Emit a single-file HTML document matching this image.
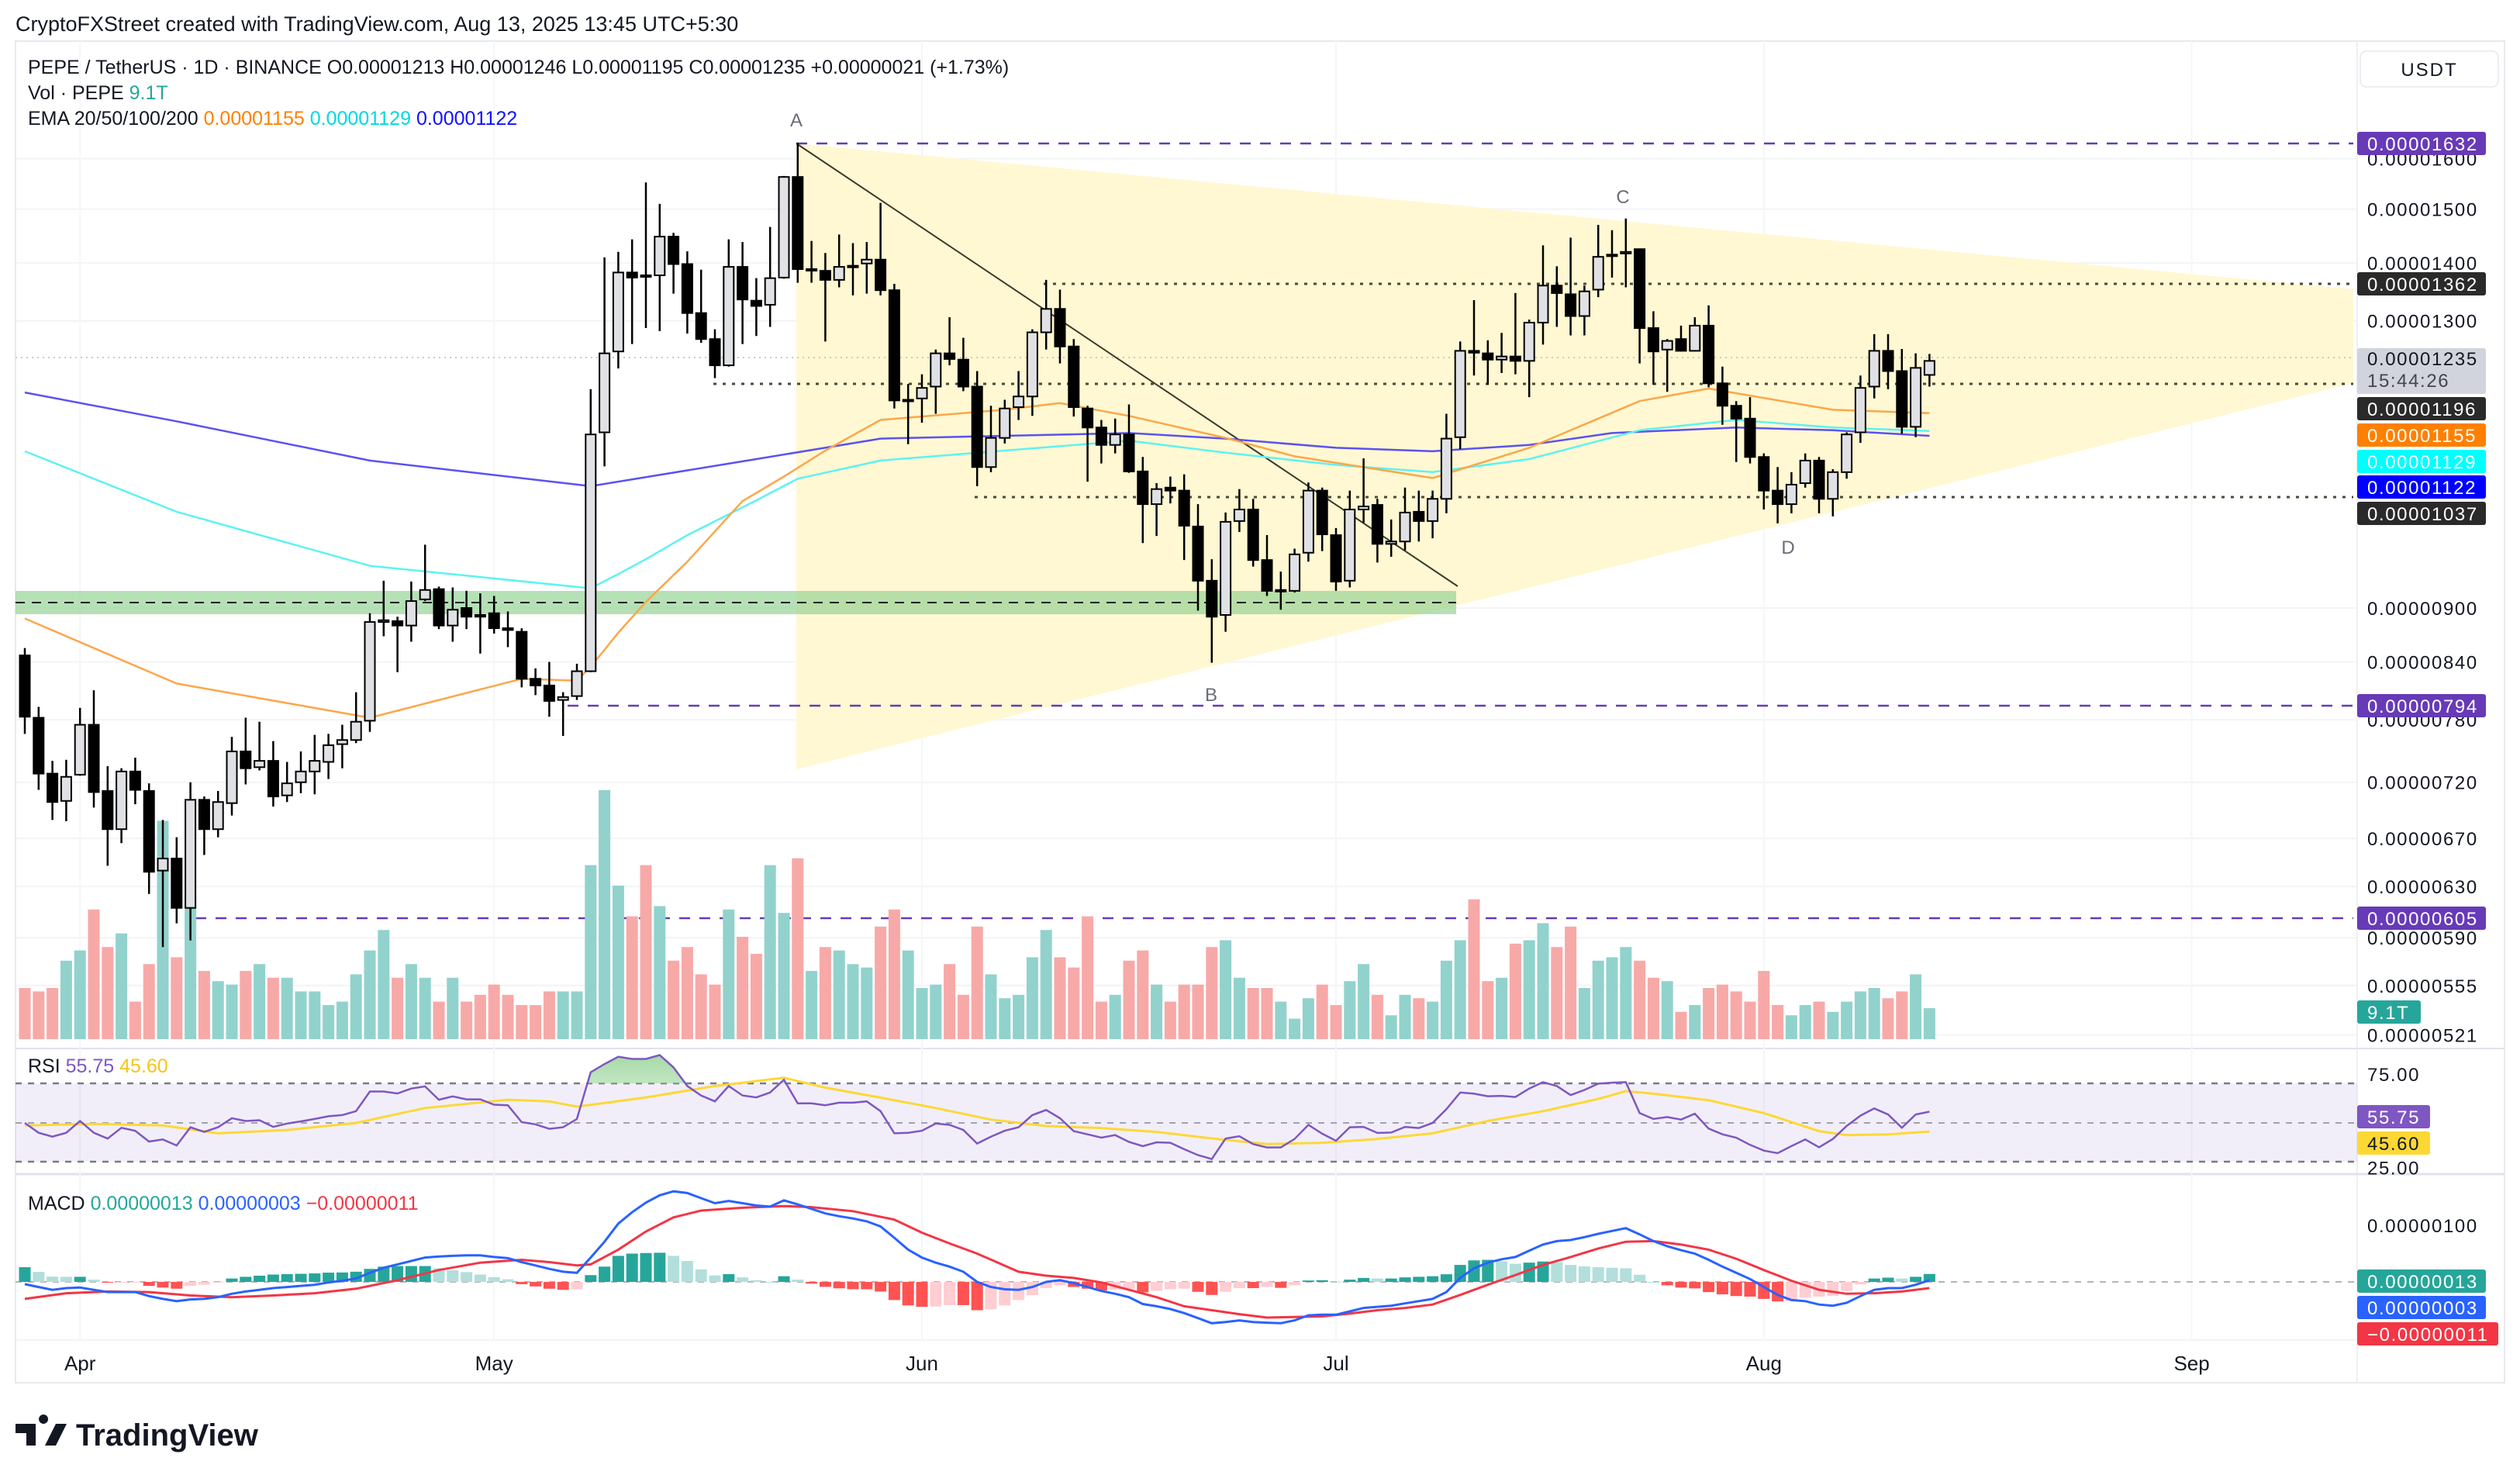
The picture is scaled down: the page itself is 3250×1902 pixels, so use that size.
<!DOCTYPE html>
<html><head><meta charset="utf-8"><style>
html,body{margin:0;padding:0;background:#fff;}
svg{display:block;font-family:"Liberation Sans",sans-serif;}
</style></head><body>
<svg id="c" width="3250" height="1902" viewBox="0 0 3250 1902" xmlns="http://www.w3.org/2000/svg">
<defs>
<linearGradient id="obg" x1="0" y1="0" x2="0" y2="1"><stop offset="0" stop-color="#8fd08f" stop-opacity="0.8"/><stop offset="1" stop-color="#c8ecc8" stop-opacity="0.2"/></linearGradient>
<clipPath id="obclip"><rect x="20" y="1300" width="3020" height="97"/></clipPath>
</defs>
<rect x="0" y="0" width="3250" height="1902" fill="#ffffff"/>
<text x="20" y="40" font-size="27" fill="#131722">CryptoFXStreet created with TradingView.com, Aug 13, 2025 13:45 UTC+5:30</text>
<rect x="20" y="53" width="3210" height="1730" fill="none" stroke="#e8e9ed" stroke-width="2"/>
<line x1="3040" y1="53" x2="3040" y2="1783" stroke="#eef0f3" stroke-width="2"/>
<line x1="20" y1="1352" x2="3230" y2="1352" stroke="#e0e3eb" stroke-width="2"/>
<line x1="20" y1="1514" x2="3230" y2="1514" stroke="#e0e3eb" stroke-width="3"/>
<line x1="20" y1="1728" x2="3040" y2="1728" stroke="#f2f3f5" stroke-width="2"/>
<g id="grid"></g>
<polygon points="1027,185 3035,373 3035,494 1027,992" fill="#fff8d2"/>
<rect x="20" y="762" width="1858" height="30" fill="#8fd08f" fill-opacity="0.65"/>
<line x1="20" y1="777" x2="1878" y2="777" stroke="#131722" stroke-width="2" stroke-dasharray="12,9"/>
<line x1="1027" y1="185" x2="3035" y2="185" stroke="#673ab7" stroke-width="2.5" stroke-dasharray="14,12"/>
<line x1="732" y1="910" x2="3035" y2="910" stroke="#673ab7" stroke-width="2.5" stroke-dasharray="14,12"/>
<line x1="252" y1="1184" x2="3035" y2="1184" stroke="#673ab7" stroke-width="2.5" stroke-dasharray="14,12"/>
<line x1="1346" y1="366" x2="3035" y2="366" stroke="#4a4a3a" stroke-width="3" stroke-dasharray="4,8"/>
<line x1="920" y1="495" x2="3035" y2="495" stroke="#4a4a3a" stroke-width="3" stroke-dasharray="4,8"/>
<line x1="1257" y1="641" x2="3035" y2="641" stroke="#4a4a3a" stroke-width="3" stroke-dasharray="4,8"/>
<line x1="20" y1="461" x2="3035" y2="461" stroke="#c8cad0" stroke-width="2" stroke-dasharray="2,5"/>
<line x1="1027" y1="185" x2="1880" y2="756" stroke="#3a3a2e" stroke-width="2"/>
<text x="1027" y="163" font-size="24" fill="#6a6d78" text-anchor="middle">A</text>
<text x="1562" y="904" font-size="24" fill="#6a6d78" text-anchor="middle">B</text>
<text x="2093" y="262" font-size="24" fill="#6a6d78" text-anchor="middle">C</text>
<text x="2306" y="714" font-size="24" fill="#6a6d78" text-anchor="middle">D</text>
<g id="vol"></g>
<g id="ema"></g>
<g id="candles"></g>
<rect x="20" y="1397" width="3020" height="101" fill="#7e57c2" fill-opacity="0.1"/>
<line x1="20" y1="1397" x2="3040" y2="1397" stroke="#787b86" stroke-width="2.5" stroke-dasharray="8,8"/>
<line x1="20" y1="1448" x2="3040" y2="1448" stroke="#a0a3ab" stroke-width="2" stroke-dasharray="8,8"/>
<line x1="20" y1="1498" x2="3040" y2="1498" stroke="#787b86" stroke-width="2.5" stroke-dasharray="8,8"/>
<g id="rsi"></g>
<line x1="20" y1="1653" x2="3040" y2="1653" stroke="#b2b5be" stroke-width="2" stroke-dasharray="8,8"/>
<g id="macd"></g>
<g id="axis"></g>
<g font-size="25" fill="#131722">
<text x="36" y="95">PEPE / TetherUS · 1D · BINANCE  O0.00001213  H0.00001246  L0.00001195  C0.00001235  +0.00000021 (+1.73%)</text>
<text x="36" y="128">Vol · PEPE <tspan fill="#26a69a">9.1T</tspan></text>
<text x="36" y="161">EMA 20/50/100/200 <tspan fill="#ff8000">0.00001155</tspan> <tspan fill="#00d8e0">0.00001129</tspan> <tspan fill="#1010ff">0.00001122</tspan></text>
<text x="36" y="1383">RSI <tspan fill="#7e57c2">55.75</tspan> <tspan fill="#f5c518">45.60</tspan></text>
<text x="36" y="1560">MACD <tspan fill="#26a69a">0.00000013</tspan> <tspan fill="#2962ff">0.00000003</tspan> <tspan fill="#f23645">−0.00000011</tspan></text>
</g>
<rect x="3044" y="66" width="178" height="46" rx="8" fill="#fff" stroke="#eceef2" stroke-width="2"/>
<text x="3133" y="98" font-size="24" fill="#131722" text-anchor="middle" letter-spacing="2">USDT</text>
<g>
<path d="M20 1836 h26 v28 h-12 v-16 h-14z M56 1836 a6 6 0 1 1 0.1 0z M72 1836 h14 l-14 28 h-14z" fill="#131722"/>
<text x="98" y="1864" font-size="40" font-weight="bold" fill="#131722">TradingView</text>
</g>
</svg>
<script>
const opens=[847,782,728,703,727,775,712,678,730,712,643,653,613,704,678,701,749,734,740,708,720,730,739,756,760,779,884,885,880,910,922,880,900,892,894,877,873,822,815,800,804,830,1127,1250,1383,1378,1378,1448,1398,1313,1270,1228,1393,1334,1327,1374,1563,1389,1386,1370,1395,1399,1406,1352,1175,1177,1195,1247,1237,1195,1078,1119,1164,1180,1281,1320,1258,1162,1134,1109,1124,1072,1028,1050,1046,999,932,892,1006,1021,957,921,920,966,1046,988,932,1021,1027,977,980,1018,1006,1035,1120,1251,1247,1237,1242,1235,1297,1360,1345,1308,1353,1413,1417,1425,1288,1253,1270,1251,1292,1200,1166,1147,1092,1046,1028,1056,1087,1035,1071,1127,1195,1251,1219,1135,1213];
const highs=[855,793,740,741,792,810,735,733,743,719,686,671,720,707,712,763,782,778,759,739,749,765,766,775,808,894,932,890,931,976,925,924,920,917,914,896,877,833,840,808,838,1191,1410,1420,1443,1552,1510,1455,1421,1388,1286,1443,1438,1373,1466,1565,1633,1440,1418,1452,1436,1438,1512,1363,1199,1214,1253,1306,1272,1219,1166,1175,1219,1286,1370,1353,1270,1166,1145,1147,1168,1092,1056,1065,1068,1028,958,1017,1048,1035,988,943,971,1057,1050,997,1046,1090,1035,1008,1050,1046,1046,1154,1266,1335,1268,1280,1347,1302,1432,1394,1446,1360,1470,1460,1482,1425,1316,1270,1292,1306,1326,1226,1173,1179,1097,1078,1071,1097,1092,1075,1127,1212,1278,1278,1254,1247,1246];
const lows=[766,713,686,685,726,697,647,666,700,624,583,601,588,656,671,690,718,731,698,702,710,709,723,733,757,768,868,829,862,908,876,862,876,849,871,856,813,805,783,764,800,829,1079,1223,1262,1288,1283,1346,1279,1264,1208,1226,1262,1275,1290,1372,1365,1365,1266,1357,1343,1346,1343,1162,1110,1141,1154,1228,1188,1052,1071,1111,1145,1151,1253,1231,1150,1058,1083,1097,1070,978,987,1029,957,897,839,873,992,949,914,898,918,955,968,920,924,1004,954,961,969,980,984,1016,1103,1212,1198,1216,1214,1179,1261,1290,1276,1276,1340,1374,1357,1231,1198,1187,1250,1250,1194,1138,1085,1083,1021,1003,1016,1050,1016,1012,1062,1112,1177,1191,1125,1120,1195];
const closes=[783,728,702,725,775,711,678,730,713,642,653,613,704,678,702,749,733,740,707,719,730,740,755,760,778,884,886,880,908,921,880,898,890,890,877,875,822,815,799,803,830,1124,1247,1383,1374,1376,1448,1398,1313,1270,1228,1393,1336,1325,1373,1563,1389,1389,1370,1393,1395,1406,1352,1174,1175,1193,1247,1238,1195,1078,1119,1162,1180,1281,1320,1258,1164,1134,1109,1124,1072,1028,1048,1046,1000,932,890,1005,1021,957,920,921,964,1046,989,931,1021,1025,977,980,1017,1006,1035,1118,1251,1248,1237,1242,1235,1297,1360,1347,1308,1350,1411,1415,1420,1288,1250,1267,1251,1292,1200,1166,1147,1092,1046,1028,1054,1087,1035,1071,1124,1193,1251,1219,1135,1224,1235];
const volumes=[15,14,15,23,26,38,27,31,11,22,64,24,42,20,17,16,20,22,18,18,14,14,10,11,19,26,32,18,22,18,11,18,11,13,16,13,10,10,14,14,14,51,73,45,36,51,39,23,27,19,16,38,30,25,51,37,53,20,27,26,22,21,33,38,26,15,16,22,13,33,19,12,13,24,32,24,21,36,11,13,23,26,16,11,16,16,27,29,18,15,15,11,6,12,16,10,17,22,13,7,13,12,11,23,29,41,17,18,28,29,34,27,33,15,23,24,27,23,18,17,8,10,15,16,14,11,20,10,7,10,11,8,11,14,15,12,14,19,9.1];
const ema50Idx=[0,11,25,36,40,41,42,43,45,48,52,55,58,62,71,75,80,87,92,102,109,117,122,131,138];
const ema50Val=[888,817,782,822,820,835,853,872,907,955,1032,1065,1101,1145,1160,1170,1151,1119,1093,1063,1105,1173,1192,1160,1155];
const ema100Idx=[0,11,25,41,43,45,48,53,56,62,71,80,87,95,102,109,117,124,131,138];
const ema100Val=[1100,1018,950,923,940,958,988,1033,1062,1087,1101,1115,1098,1081,1071,1089,1130,1145,1134,1129];
const ema200Idx=[0,11,25,41,53,62,71,80,87,95,102,109,115,124,131,138];
const ema200Val=[1186,1143,1087,1052,1089,1118,1122,1126,1118,1105,1100,1109,1126,1134,1130,1122];
const rsiVals=[50,45,43,45,51,45,42,47.5,46,40.5,41.6,38.5,47.8,45.4,47.8,52.4,51,51.4,48,49.7,50.8,52,53.4,54,56,66,66,65,67.5,68.6,61.8,63.5,62,62,59.3,59,50.4,49.3,47,47.8,52,75.8,80,83.7,82.6,82.6,84.6,78.3,68.8,64,61,68.8,64,63,65.5,72,60,60,59,60.3,60.3,61,56,44.7,45,46,49.7,49,46.4,39.5,43,46,47.8,54,56.6,52.4,45.8,44.2,42.5,43.8,40.3,38.2,40.1,39.9,36.6,33.6,31.6,42,43.2,39.2,37.5,37.5,41.8,49,44.5,40.9,47.8,48,44.9,45.1,48,47.4,50,57,65.5,64.9,63.6,63.8,63.2,67.5,70.8,68.8,64.2,66.8,70,70.5,70.8,55,52,53,51.7,54.7,47.1,44.2,42.5,38.8,35.9,34.6,38.2,41.6,37.6,41.8,48.4,53.7,57.4,54.3,47.5,54.3,55.75];
const rsiMaIdx=[0,5,10,14,19,24,29,35,38,40,45,50,55,58,62,66,70,74,78,82,86,90,94,98,102,106,110,114,116,118,122,126,130,132,135,138];
const rsiMaVals=[48.7,49.5,48.7,44.7,46.4,50,57.6,61.8,61,58.3,63,68.8,73,68,62.9,57.6,51.7,48.4,47.4,45.4,42.1,39.2,39.9,41.8,44.7,51,56,62.2,66.2,64.9,61.6,55,45.8,43.8,44.2,45.6];
const macdVals=[-4,-9,-14,-11,-10,-14,-18,-18,-18,-25,-30,-34,-31,-30,-27,-21,-17,-14,-11,-9,-7,-5,-1,2,6,16,25,31,37,43,45,46,47,47,44,42,35,29,23,18,16,43,71,103,123,140,153,160,157,148,139,143,139,135,133,144,137,129,121,116,112,107,98,78,57,43,34,27,18,0,-9,-13,-14,-9,0,3,-2,-9,-16,-21,-27,-39,-43,-48,-55,-64,-73,-71,-68,-71,-72,-73,-68,-59,-58,-58,-52,-46,-44,-42,-38,-34,-30,-18,7,24,34,40,44,55,66,72,74,79,85,90,95,84,72,63,56,50,39,27,16,5,-9,-23,-32,-34,-40,-42,-37,-25,-14,-11,-11,-5,3];
const signalIdx=[0,3,6,9,12,15,18,21,24,27,30,33,36,38,40,41,43,45,47,49,52,55,57,60,63,65,67,69,72,74,76,78,80,82,84,86,88,90,92,94,96,98,100,102,104,106,108,110,112,114,116,118,120,122,124,126,128,130,132,134,136,138];
const signalVals=[-30,-20,-17,-18,-24,-27,-24,-20,-12,3,21,34,39,35,29,31,57,89,114,126,131,134,132,125,110,87,68,50,18,11,7,-1,-14,-27,-43,-50,-57,-63,-62,-61,-56,-50,-46,-40,-23,-5,12,30,44,59,71,72,66,57,41,21,2,-14,-21,-20,-17,-11];
const priceTicks=[1600,1500,1400,1300,900,840,780,720,670,630,590,555,521];
const monthLabels=["Apr","May","Jun","Jul","Aug","Sep"];
const monthIdx=[4,34,65,95,126,157];

const NS="http://www.w3.org/2000/svg";
function X(i){return 32+i*17.8;}
function Y(p){return 784-1007*Math.log(p/900);}
function VY(v){return 1340-v*4.4;}
function RY(v){return 1448-(v-50)*2.53;}
function MY(v){return 1653-v*0.73;}
function mk(tag,attrs,parent){const e=document.createElementNS(NS,tag);for(const k in attrs)e.setAttribute(k,attrs[k]);parent.appendChild(e);return e;}
function interp(idx,vals,i){for(let k=0;k<idx.length-1;k++){if(i>=idx[k]&&i<=idx[k+1]){const t=(i-idx[k])/(idx[k+1]-idx[k]);return vals[k]+t*(vals[k+1]-vals[k]);}}return vals[vals.length-1];}

const grid=document.getElementById('grid');
priceTicks.forEach(function(p){
  const g=mk('line',{x1:20,x2:3040,y1:Y(p),y2:Y(p),stroke:'#f3f4f6','stroke-width':2},grid);
  
  
});
monthIdx.forEach(function(mi){
  const g=mk('line',{x1:X(mi),x2:X(mi),y1:53,y2:1728,stroke:'#f5f6f8','stroke-width':2},grid);
  
  
});

const vol=document.getElementById('vol');
volumes.forEach(function(v,i){
  const up=closes[i]>=opens[i];
  const r=mk('rect',{x:X(i)-7.5,y:VY(v),width:15,height:1340-VY(v),fill:up?'#92d2cc':'#f7a9a8'},vol);
  
  
});

const ema=document.getElementById('ema');
function line(idx,vals,color,name,w){
  const pts=idx.map(function(i,k){return X(i).toFixed(1)+','+Y(vals[k]).toFixed(1);}).join(' ');
  const l=mk('polyline',{points:pts,fill:'none',stroke:color,'stroke-width':w,'stroke-linejoin':'round'},ema);
  
  
}
line(ema200Idx,ema200Val,'#5a52f0','ema-200-line',2.5);
line(ema100Idx,ema100Val,'#5ef2f2','ema-100-line',2.5);
line(ema50Idx,ema50Val,'#fca64a','ema-50-line',2.5);

const cg=document.getElementById('candles');
opens.forEach(function(o,i){
  const c=closes[i],up=c>=o,x=X(i);
  const w=mk('line',{x1:x,x2:x,y1:Y(highs[i]),y2:Y(lows[i]),stroke:'#000','stroke-width':2.5},cg);
  
  
  const top=Y(Math.max(o,c)),bot=Y(Math.min(o,c));
  const b=mk('rect',{x:x-6.5,y:top,width:13,height:Math.max(bot-top,2),fill:up?'#e0e1e5':'#000',stroke:'#000','stroke-width':2},cg);
  
  
});

const rg=document.getElementById('rsi');
const rsiPts=rsiVals.map(function(v,i){return X(i).toFixed(1)+','+RY(v).toFixed(1);});
const ob=mk('polygon',{points:X(0)+','+RY(70)+' '+rsiPts.join(' ')+' '+X(rsiVals.length-1)+','+RY(70),fill:'url(#obg)','clip-path':'url(#obclip)'},rg);


const rma=mk('polyline',{points:rsiMaIdx.map(function(i,k){return X(i).toFixed(1)+','+RY(rsiMaVals[k]).toFixed(1);}).join(' '),fill:'none',stroke:'#fdd835','stroke-width':3},rg);


const rl=mk('polyline',{points:rsiPts.join(' '),fill:'none',stroke:'#7e57c2','stroke-width':2.5},rg);



const mg=document.getElementById('macd');
let prevH=null;
macdVals.forEach(function(m,i){
  const h=m-interp(signalIdx,signalVals,i);
  let col;
  if(h>=0) col=(prevH===null||h>=prevH)?'#26a69a':'#b2dfdb';
  else col=(prevH===null||h<=prevH)?'#ff5252':'#ffcdd2';
  prevH=h;
  const y1=MY(Math.max(h,0)),y2=MY(Math.min(h,0));
  const r=mk('rect',{x:X(i)-7.5,y:y1,width:15,height:Math.max(y2-y1,1),fill:col},mg);
  
  
});
const sl=mk('polyline',{points:signalIdx.map(function(i,k){return X(i).toFixed(1)+','+MY(signalVals[k]).toFixed(1);}).join(' '),fill:'none',stroke:'#f23645','stroke-width':3},mg);


const ml=mk('polyline',{points:macdVals.map(function(v,i){return X(i).toFixed(1)+','+MY(v).toFixed(1);}).join(' '),fill:'none',stroke:'#2962ff','stroke-width':3},mg);



const ax=document.getElementById('axis');
function tlabel(txt,y,name){
  const t=mk('text',{x:3053,y:y+9,'font-size':24,fill:'#131722','letter-spacing':'1.6'},ax);
  t.textContent=txt;
  
  
}
priceTicks.forEach(function(p){tlabel('0.0000'+String(p).padStart(4,'0'),Y(p),'price-tick-label');});
tlabel('75.00',RY(75),'rsi-tick-label');
tlabel('25.00',RY(25)-6,'rsi-tick-label');
tlabel('0.00000100',MY(100),'macd-tick-label');
function badge(txt,y,bg,fg,w,name){
  const r=mk('rect',{x:3040,y:y-15,width:w,height:30,rx:3,fill:bg},ax);
  
  
  const t=mk('text',{x:3053,y:y+9,'font-size':24,fill:fg,'letter-spacing':'1.6'},ax);
  t.textContent=txt;
  
  
}
badge('0.00001632',185,'#673ab7','#fff',166,'badge-1632');
badge('0.00001362',366,'#2a2a2a','#fff',166,'badge-1362');
const cb=mk('rect',{x:3040,y:449,width:166,height:59,rx:3,fill:'#d1d4dc'},ax);


const ct=mk('text',{x:3053,y:471,'font-size':24,fill:'#131722','letter-spacing':'1.6'},ax);
ct.textContent='0.00001235';


const cd=mk('text',{x:3053,y:499,'font-size':24,fill:'#434651','letter-spacing':'1.6'},ax);
cd.textContent='15:44:26';


badge('0.00001196',527,'#2a2a2a','#fff',166,'badge-1196');
badge('0.00001155',561,'#ff8000','#fff',166,'badge-ema50');
badge('0.00001129',595,'#00ffff','#fff',166,'badge-ema100');
badge('0.00001122',628,'#0000ff','#fff',166,'badge-ema200');
badge('0.00001037',662,'#2a2a2a','#fff',166,'badge-1037');
badge('0.00000794',910,'#673ab7','#fff',166,'badge-794');
badge('0.00000605',1184,'#673ab7','#fff',166,'badge-605');
badge('9.1T',1305,'#26a69a','#fff',82,'badge-volume');
badge('55.75',1440,'#7e57c2','#fff',94,'badge-rsi');
badge('45.60',1474,'#fdd835','#131722',94,'badge-rsi-ma');
badge('0.00000013',1652,'#26a69a','#fff',166,'badge-macd-hist');
badge('0.00000003',1686,'#2962ff','#fff',166,'badge-macd');
badge('−0.00000011',1720,'#f23645','#fff',182,'badge-macd-signal');
monthLabels.forEach(function(m,k){
  const t=mk('text',{x:X(monthIdx[k]),y:1767,'font-size':26,fill:'#131722','text-anchor':'middle'},ax);
  t.textContent=m;
  
  
});
</script>
</body></html>
